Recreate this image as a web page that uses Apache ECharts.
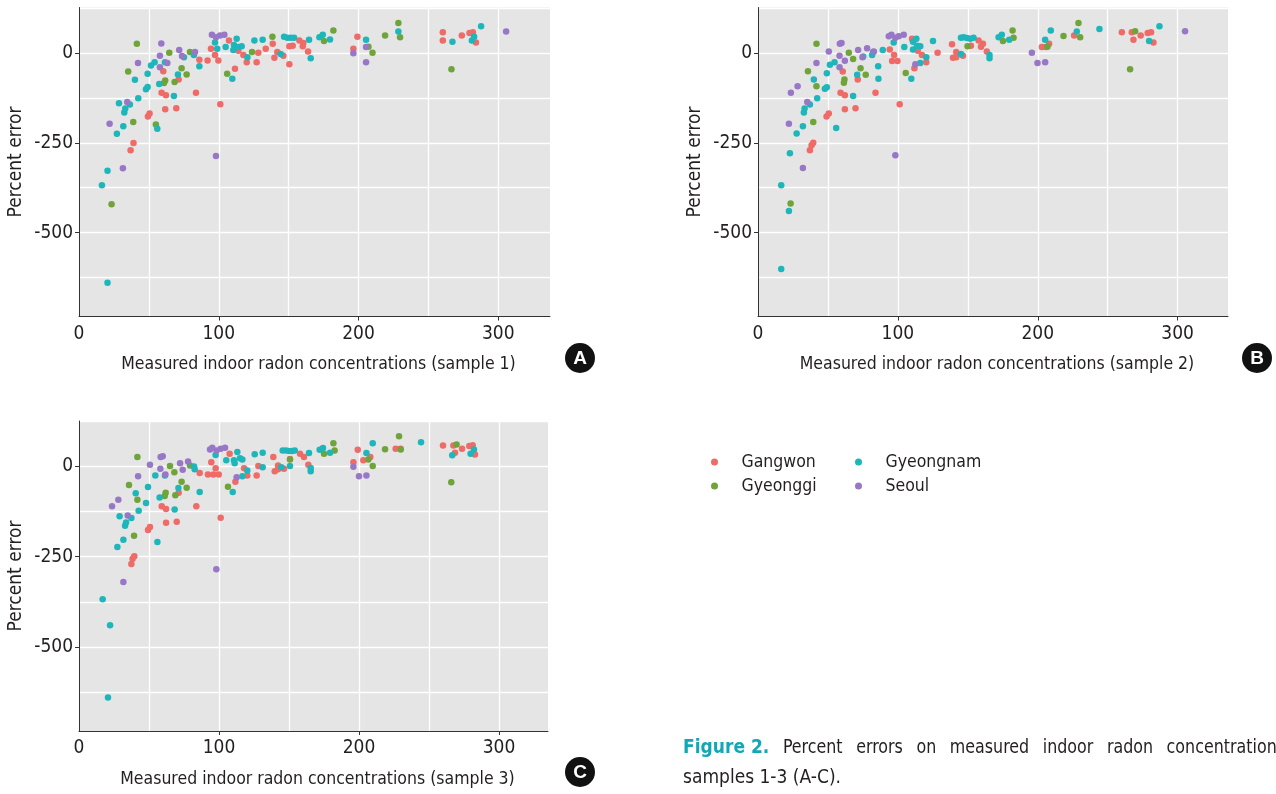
<!DOCTYPE html>
<html><head><meta charset="utf-8">
<script src="https://cdn.jsdelivr.net/npm/echarts@6/dist/echarts.min.js"></script>
<style>html,body{margin:0;padding:0;background:#fff}#c{width:1276px;height:794px}</style>
</head><body><div id="c"></div>
<script>
// ---------- data ----------
const regions = ['Gangwon', 'Gyeonggi', 'Gyeongnam', 'Seoul'];
const xTitles = ['Measured indoor radon concentrations (sample 1)', 'Measured indoor radon concentrations (sample 2)', 'Measured indoor radon concentrations (sample 3)'];
const panelLetters = ['A', 'B', 'C'];
const yTickLabels = [0, -250, -500];
const yGridValues = [125, 0, -125, -250, -375, -500, -625];
const xTickLabels = [0, 100, 200, 300];
const xTickMarks = [100, 200, 300];
const xGridValues = [50, 100, 150, 200, 250, 300];

// Sample 1
const gangwonA = [[36.9,-271],[39,-251],[49.3,-177],[50.5,-169],[60.3,-51],[59.1,-111],[62.2,-118],[61.7,-157],[69.6,-154],[71.3,-74],[83.7,-111],[86.1,-19],[92,-21],[94.4,11],[97.3,-6],[99.7,-21],[101.1,-143],[107.3,34],[111.6,-44],[114,6],[117.6,-6],[120,-26],[127.1,-26],[128.3,0],[133.6,11],[138.6,25],[139.8,-14],[141.9,2],[146.2,-8],[150.5,-32],[150.5,18],[152.9,20],[157.7,34],[160.1,18],[160.5,27],[163.9,4],[199.2,45],[196.3,11],[260.3,57],[260.3,34],[273.9,48],[279.4,55],[281.8,57],[284,29]];
const gyeonggiA = [[23.3,-421],[38.8,-192],[55,-199],[35.2,-52],[41.4,25],[64.6,0],[61.7,-77],[60.8,-84],[68.4,-81],[73.4,-43],[77,-60],[79.4,2],[106,-58],[123.8,2],[138.4,45],[175.3,33],[182,62],[207.1,17],[210,0],[219,48],[228.5,83],[229.7,43],[266.5,-46]];
const gyeongnamA = [[20.4,-639],[16.4,-368],[20.4,-328],[27.1,-225],[31.7,-204],[28.6,-140],[32.4,-166],[33.1,-155],[36.4,-144],[42.4,-126],[40,-75],[47.9,-101],[49.1,-95],[49.1,-58],[51.5,-35],[54.1,-26],[57.4,-87],[56,-211],[61.5,-26],[67.9,-120],[70.8,-60],[75.1,-12],[82.2,-6],[86.1,-37],[97.3,29],[98.9,11],[104.9,16],[112.8,39],[110.9,22],[110.4,8],[114,16],[116.4,18],[109.7,-72],[120.5,-12],[125.5,34],[131.4,36],[144.3,-3],[146.7,45],[149.1,42],[151.5,42],[153.9,42],[164.6,36],[165.8,-15],[172,43],[174.4,50],[179.6,37],[205.4,36],[228.5,59],[267.2,31],[281.1,34],[282.7,45],[287.7,74]];
const seoulA = [[21.9,-197],[31.4,-321],[34.5,-137],[42.2,-28],[58.9,26],[57.9,-8],[57.9,-40],[63.2,-28],[71.7,8],[73.7,-9],[83,2],[95.1,50],[98,43],[100.9,48],[104,50],[98,-287],[196.3,-1],[205.4,16],[205.4,-26],[305.6,59]];

// Sample 2
const gangwonB = [[37.1,-271],[38.3,-257],[39.5,-250],[49,-177],[50.6,-169],[60.6,-52],[59,-111],[62.1,-118],[62.1,-157],[69.7,-154],[71.3,-74],[84,-111],[94.2,9],[97.3,-6],[95.9,-23],[99.7,-23],[101.3,-143],[110.1,39],[111.8,-43],[114.2,6],[117.2,-6],[120.3,-26],[128.4,0],[138.7,24],[139.4,-14],[141.7,2],[141.7,-12],[146.5,-8],[152.2,20],[157.7,34],[160.8,25],[159.4,17],[163.6,4],[202.9,16],[205.7,16],[208.1,25],[226,48],[260.1,57],[267.2,57],[268.4,36],[273.6,48],[278.6,55],[281,57],[282.7,29]];
const gyeonggiB = [[23.3,-419],[39.5,-192],[35.7,-51],[41.8,25],[41.8,-93],[61.8,-74],[61.4,-83],[64.9,0],[68,-17],[73.3,-43],[77,-61],[105.6,-56],[149.8,18],[175.1,33],[182,62],[182.7,42],[206.9,17],[218.4,47],[229.1,83],[230.3,43],[269.6,60],[266,-46]];
const gyeongnamB = [[16.6,-601],[16.6,-368],[22.1,-440],[22.8,-279],[27.6,-224],[32.1,-204],[32.8,-166],[33.3,-155],[37.1,-144],[42.3,-126],[39.9,-74],[47.8,-100],[49.2,-96],[49.2,-57],[51.4,-33],[54.7,-26],[55.9,-209],[68,-120],[70.9,-61],[75.2,-10],[81.6,-6],[82.3,2],[85.9,-37],[86.1,-72],[89.2,8],[97,29],[104.6,16],[109.6,-72],[110.8,31],[113.2,39],[110.8,9],[113.7,20],[116,18],[120.3,-12],[116,-28],[125.1,33],[145.1,-3],[145.1,42],[147,43],[149.4,41],[151.7,39],[154.1,42],[165.5,-6],[165.5,-15],[172,43],[174.3,50],[179.6,36],[205.3,36],[209.3,62],[227.9,59],[244.1,66],[279.6,33],[287,74]];
const seoulB = [[22.1,-197],[23.5,-111],[28.3,-93],[32.1,-320],[35.2,-137],[41.8,-28],[50.6,4],[58.5,25],[59.7,27],[58.3,-8],[58.3,-40],[62.1,-22],[71.6,8],[74.7,-12],[78,13],[82.8,4],[93.5,46],[95.4,50],[98.2,42],[100.6,46],[104.2,50],[98.2,-285],[112.5,-32],[195.8,0],[199.8,-28],[205.3,-26],[305.3,60]];

// Sample 3
const gangwonC = [[37.4,-270],[38.3,-256],[39.5,-249],[49.3,-176],[50.7,-168],[59.1,-110],[62.2,-118],[62.2,-156],[69.8,-153],[71.2,-73],[83.8,-110],[86.2,-18],[92.1,-22],[96,-22],[99.8,-22],[94.5,12],[97.6,-5],[101.2,-142],[107.6,35],[111.7,-42],[117.9,-5],[120.2,-25],[126.9,-25],[128.1,1],[138.8,26],[139.8,-13],[142.2,3],[142.2,-8],[146.4,-6],[150.7,21],[157.9,35],[160.7,26],[163.8,5],[199.1,46],[196,12],[203.1,17],[208.1,26],[226.2,49],[229.7,49],[260,58],[267.4,58],[268.6,38],[273.6,49],[278.8,57],[281.2,59],[282.8,33]];
const gyeonggiC = [[41.7,26],[35.7,-51],[41.7,-92],[39.3,-192],[61.9,-73],[61.2,-82],[65,1],[68.1,-16],[73.3,-42],[76.9,-59],[79.3,3],[68.8,-80],[106.4,-56],[150.7,19],[175,35],[181.7,64],[182.6,44],[206.7,19],[209.8,1],[218.6,48],[228.6,84],[229.8,47],[269.7,61],[265.9,-44]];
const gyeongnamC = [[20.7,-640],[16.9,-368],[22.2,-440],[27.4,-223],[31.7,-203],[29,-138],[32.9,-164],[33.6,-155],[37.4,-143],[42.6,-123],[40.5,-74],[47.9,-101],[49.3,-57],[54.5,-25],[57.6,-86],[56,-209],[61.4,-25],[68.3,-119],[71,-60],[82.2,0],[82.6,-8],[86.2,-71],[97.6,32],[105.2,17],[113.1,40],[110.7,17],[111.2,9],[115,23],[116.7,19],[109.8,-71],[120.2,-11],[116.7,-27],[131.2,-2],[125.5,34],[131.2,38],[144.5,-2],[150.7,1],[145.5,44],[147.9,44],[150.2,43],[152.2,43],[154.1,44],[164.3,37],[165.5,-4],[165.5,-13],[171.9,46],[174.3,51],[179.3,38],[205.3,37],[209.8,64],[244.3,67],[266.6,31],[279.7,35],[282.1,47]];
const seoulC = [[23.6,-110],[28.1,-92],[31.7,-320],[34.8,-136],[42.2,-27],[50.7,5],[58.3,26],[59.8,28],[58.1,-6],[61.7,-22],[72.2,9],[74.1,-9],[77.9,14],[93.6,47],[95.2,52],[98.3,44],[101.2,49],[104.3,52],[98.1,-285],[112.6,-30],[196,-1],[200,-27],[205.3,-25]];

// ---------- styling / layout ----------
const COLORS = ['#EE6B67', '#6FA43A', '#1DB6BA', '#9878C6'];
const FONT = '"Liberation Sans Narrow", "DejaVu Sans Condensed", "Liberation Sans", sans-serif';
const TXT = '#231F20';
const panelData = [
  [gangwonA, gyeonggiA, gyeongnamA, seoulA],
  [gangwonB, gyeonggiB, gyeongnamB, seoulB],
  [gangwonC, gyeonggiC, gyeongnamC, seoulC]
];
const panelLayout = [
  {left: 79, top: 7.5, width: 471, height: 309, xmax: 337, badge: [580, 358]},
  {left: 758, top: 7.5, width: 470, height: 309, xmax: 336, badge: [1257, 358]},
  {left: 79, top: 421, width: 469, height: 310, xmax: 335, badge: [580, 772]}
];
const YMIN = -733, YMAX = 126;

const grids = [], xAxes = [], yAxes = [], series = [], graphics = [];
panelLayout.forEach((p, i) => {
  grids.push({left: p.left, top: p.top, width: p.width, height: p.height, show: true,
    backgroundColor: '#E5E5E5', borderWidth: 0, containLabel: false, outerBoundsMode: 'none'});
  // gridline axes
  xAxes.push({type: 'value', gridIndex: i, min: 0, max: p.xmax, position: 'top',
    axisLine: {show: false}, axisLabel: {show: false},
    axisTick: {show: false, customValues: xGridValues},
    splitLine: {show: true, lineStyle: {color: '#FFFFFF', width: 1.3}}});
  yAxes.push({type: 'value', gridIndex: i, min: YMIN, max: YMAX, position: 'right',
    axisLine: {show: false}, axisLabel: {show: false},
    axisTick: {show: false, customValues: yGridValues},
    splitLine: {show: true, lineStyle: {color: '#FFFFFF', width: 1.3}}});
  // label axes
  xAxes.push({type: 'value', gridIndex: i, min: 0, max: p.xmax, position: 'bottom',
    name: xTitles[i], nameLocation: 'middle', nameGap: 39, nameMoveOverlap: false,
    nameTextStyle: {fontFamily: FONT, fontSize: 17.5, color: TXT, padding: [0, 0, 0, 8]},
    axisLine: {show: true, onZero: false, lineStyle: {color: '#333', width: 1}},
    axisTick: {show: true, length: 4, customValues: xTickMarks, lineStyle: {color: '#333'}},
    axisLabel: {customValues: xTickLabels, margin: 8, fontFamily: FONT, fontSize: 19, color: TXT},
    splitLine: {show: false}});
  yAxes.push({type: 'value', gridIndex: i, min: YMIN, max: YMAX, position: 'left',
    name: 'Percent error', nameLocation: 'middle', nameGap: 53, nameMoveOverlap: false,
    nameTextStyle: {fontFamily: FONT, fontSize: 19, color: TXT},
    axisLine: {show: true, onZero: false, lineStyle: {color: '#333', width: 1}},
    axisTick: {show: true, length: 4, customValues: yTickLabels, lineStyle: {color: '#333'}},
    axisLabel: {customValues: yTickLabels, margin: 6, fontFamily: FONT, fontSize: 19, color: TXT},
    splitLine: {show: false}});
  regions.forEach((r, k) => {
    series.push({type: 'scatter', name: r, xAxisIndex: 2 * i + 1, yAxisIndex: 2 * i + 1,
      data: panelData[i][k], symbol: 'circle', symbolSize: 6.5,
      itemStyle: {color: COLORS[k], opacity: 1}, silent: true, z: 3});
  });
  graphics.push({type: 'circle', shape: {cx: p.badge[0], cy: p.badge[1], r: 15}, style: {fill: '#111'}});
  graphics.push({type: 'text', x: p.badge[0], y: p.badge[1] + 1,
    style: {text: panelLetters[i], fill: '#fff', font: 'bold 19px "Liberation Sans", sans-serif', align: 'center', verticalAlign: 'middle'}});
});

// caption: justified first line (cut by the right edge), second line normal
const captionLine1 = ['Figure 2.', 'Percent', 'errors', 'on', 'measured', 'indoor', 'radon', 'concentrations'];
(function () {
  const ctx = document.createElement('canvas').getContext('2d');
  const boldFont = 'bold 19px ' + FONT, normFont = '19px ' + FONT, sx = 0.93;
  const widths = captionLine1.map((w, j) => {
    ctx.font = j === 0 ? boldFont : normFont;
    return ctx.measureText(w).width * (j === 0 ? 1 : sx);
  });
  const total = widths.reduce((a, b) => a + b, 0);
  const gap = (602 - total) / (captionLine1.length - 1);
  let x = 683;
  captionLine1.forEach((w, j) => {
    graphics.push({type: 'text', x: x, y: 748, scaleX: j === 0 ? 1 : sx,
      style: {text: w, fill: j === 0 ? '#12A7B6' : TXT, font: j === 0 ? boldFont : normFont, verticalAlign: 'middle'}});
    x += widths[j] + gap;
  });
})();
graphics.push({type: 'text', x: 683, y: 778, style: {text: 'samples 1-3 (A-C).', fill: TXT, font: '19px ' + FONT, verticalAlign: 'middle'}});

const legendCommon = {orient: 'vertical', top: 452, itemWidth: 44, itemHeight: 7, itemGap: 4,
  icon: 'circle', selectedMode: false, padding: 0,
  textStyle: {fontFamily: FONT, fontSize: 17.5, color: TXT, lineHeight: 20}};

const chart = echarts.init(document.getElementById('c'), null, {renderer: 'canvas'});
chart.setOption({
  animation: false,
  backgroundColor: '#FFFFFF',
  color: COLORS,
  grid: grids, xAxis: xAxes, yAxis: yAxes, series: series,
  legend: [
    Object.assign({}, legendCommon, {left: 711, data: ['Gangwon', 'Gyeonggi']}),
    Object.assign({}, legendCommon, {left: 855, data: ['Gyeongnam', 'Seoul']})
  ],
  graphic: graphics
});
</script></body></html>
